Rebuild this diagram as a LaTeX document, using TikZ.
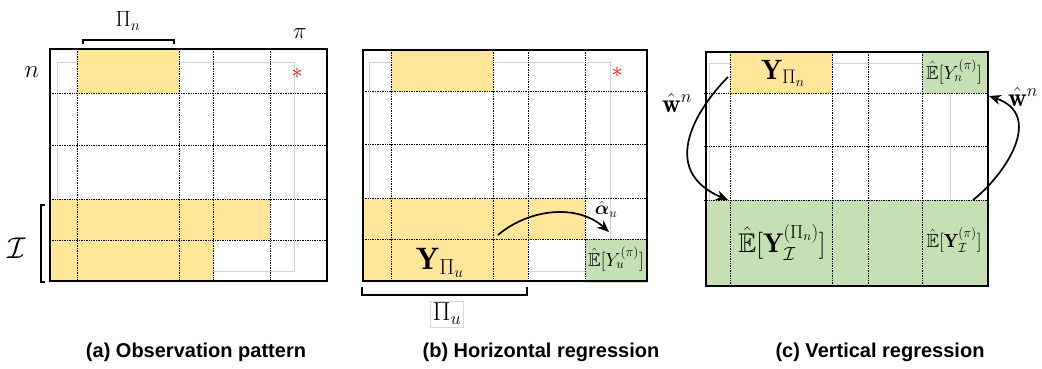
\RequirePackage{fix-cm}
\documentclass[tikz,border=0pt]{standalone}
\usepackage{amsmath}
\usepackage{amssymb}
\usepackage{fontspec}
\newfontfamily\capfont{Liberation Sans}
\usetikzlibrary{arrows.meta}

\definecolor{obsyellow}{HTML}{FFE699}
\definecolor{estgreen}{HTML}{C5E0B4}

\tikzset{
  obs/.style={fill=obsyellow},
  est/.style={fill=estgreen},
  gridline/.style={densely dotted, line width=0.7pt},
  frame/.style={line width=1.8pt},
  inner/.style={draw=gray!35, line width=0.7pt},
  brk/.style={line width=1.3pt},
  arr/.style={-{Stealth[length=12pt,width=10pt]}, line width=1.7pt},
  lbl/.style={inner sep=0pt},
  captext/.style={inner sep=0pt, font=\capfont\bfseries\fontsize{20}{23}\selectfont},
}

\begin{document}
\begin{tikzpicture}[x=1pt, y=-1pt]
\useasboundingbox (0,0) rectangle (1042,369);

% (a) observation pattern
\draw[inner] (57,62) rectangle (294,271);
\fill[obs] (77,49) rectangle (179,93);
\fill[obs] (50,199) rectangle (270,240);
\fill[obs] (50,240) rectangle (213,281);
\foreach \x in {77,179,213,270} \draw[gridline] (\x,49) -- (\x,281);
\foreach \y in {93,145,199,240} \draw[gridline] (50,\y) -- (327,\y);
\draw[frame] (50,49) rectangle (327,281);
\draw[brk] (83,44) -- (83,40) -- (174,40) -- (174,44);
\draw[brk] (45,205) -- (41,205) -- (41,282) -- (45,282);
\node[lbl] (piA) at (128,21) {\fontsize{22}{24}\selectfont$\Pi_n$};
\node[lbl] (polA) at (300,34) {\fontsize{23}{25}\selectfont$\pi$};
\node[lbl] (unitA) at (32,72) {\fontsize{25}{27}\selectfont$n$};
\node[lbl] (setA) at (17,248) {\fontsize{30}{32}\selectfont$\mathcal{I}$};
\node[lbl, text=red] (starA) at (297,73) {\fontsize{22}{24}\selectfont$*$};

% (b) horizontal regression
\draw[inner] (369,62) rectangle (610,271);
\fill[obs] (391,50) rectangle (493,91);
\fill[obs] (363,198) rectangle (585,239);
\fill[obs] (363,239) rectangle (528,281);
\fill[est] (585,239) rectangle (647,283);
\foreach \x in {391,493,528,585} \draw[gridline] (\x,50) -- (\x,281);
\foreach \y in {91,144,198,239} \draw[gridline] (363,\y) -- (647,\y);
\draw[frame] (363,50) rectangle (647,281);
\node[lbl, text=red] (starB) at (617,72) {\fontsize{22}{24}\selectfont$*$};
\draw[brk] (362,287) -- (362,295) -- (527,295) -- (527,287);
\node[draw=gray!30, line width=0.6pt, inner sep=2pt] (piB) at (447,314)
  {\fontsize{26}{28}\selectfont$\Pi_u$};
\node[lbl] (obsB) at (440,263) {\fontsize{31}{33}\selectfont$\mathbf{Y}_{\Pi_u}$};
\node[lbl] (alphaB) at (606,209) {\fontsize{19}{21}\selectfont$\hat{\boldsymbol{\alpha}}_u$};
\node[lbl] (estB) at (616,259)
  {\fontsize{19}{21}\selectfont$\hat{\mathbb{E}}[Y_u^{(\pi)}]$};
\coordinate (fromB) at (498,235);
\coordinate (toB) at (609,232);
\draw[arr] (fromB) .. controls (530,208) and (578,204) .. (toB);

% (c) vertical regression
\draw[inner] (709,63) rectangle (950,280);
\fill[obs] (730,52) rectangle (832,93);
\fill[est] (922,52) rectangle (988,93);
\fill[est] (706,200) rectangle (988,286);
\foreach \x in {730,832,868,922} \draw[gridline] (\x,52) -- (\x,286);
\foreach \y in {93,146,200} \draw[gridline] (704,\y) -- (988,\y);
\draw[frame] (706,52) rectangle (988,286);
\node[lbl] (obsC) at (783,73) {\fontsize{28}{30}\selectfont$\mathbf{Y}_{\Pi_n}$};
\node[lbl] (estTopC) at (954,72)
  {\fontsize{19}{21}\selectfont$\hat{\mathbb{E}}[Y_n^{(\pi)}]$};
\node[lbl] (estLowC) at (782,242)
  {\fontsize{27}{29}\selectfont$\hat{\mathbb{E}}[\mathbf{Y}_{\mathcal{I}}^{(\Pi_n)}]$};
\node[lbl] (estRowC) at (954,240)
  {\fontsize{19}{21}\selectfont$\hat{\mathbb{E}}[\mathbf{Y}_{\mathcal{I}}^{(\pi)}]$};
\coordinate (fromC) at (728,77);
\coordinate (toC) at (728,200);
\coordinate (backC) at (973,200);
\coordinate (upC) at (989,96);
\draw[arr] (fromC) .. controls (698,107) and (657,170) .. (toC);
\draw[arr] (backC) .. controls (1005,175) and (1045,115) .. (upC);
\node[lbl] (wLeft) at (677,103) {\fontsize{26}{28}\selectfont$\hat{\mathbf{w}}^n$};
\node[lbl] (wRight) at (1023,97) {\fontsize{26}{28}\selectfont$\hat{\mathbf{w}}^n$};

% captions
\node[captext] (capA) at (196,352) {(a) Observation pattern};
\node[captext] (capB) at (541,352) {(b) Horizontal regression};
\node[captext] (capC) at (880,352) {(c) Vertical regression};
\end{tikzpicture}
\end{document}
